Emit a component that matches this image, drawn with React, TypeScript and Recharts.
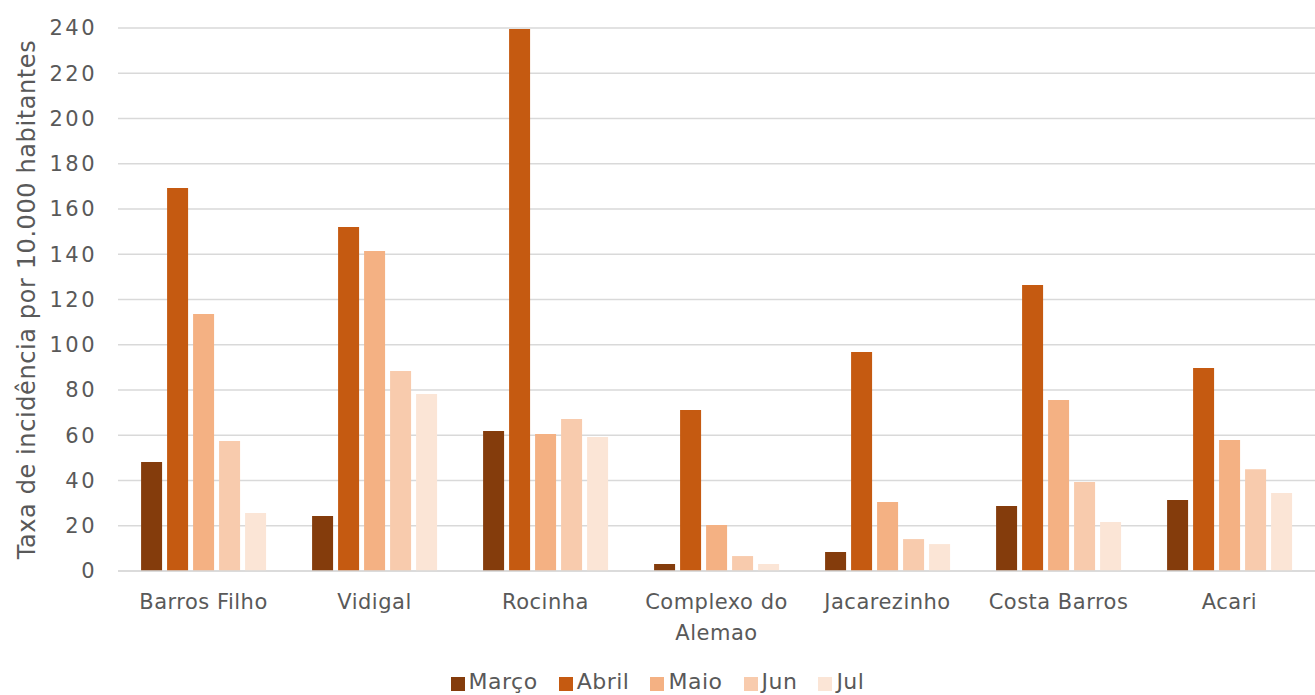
import React from 'react';
import { BarChart, Bar, XAxis, YAxis, CartesianGrid, Legend } from 'recharts';

const bairros = ['Barros Filho', 'Vidigal', 'Rocinha', 'Complexo do Alemao', 'Jacarezinho', 'Costa Barros', 'Acari'];
const marco = [48.2, 24.3, 61.9, 3.1, 8.4, 28.7, 31.4];
const abril = [169.3, 152.0, 239.6, 71.2, 96.8, 126.4, 89.7];
const maio = [113.6, 141.4, 60.6, 20.3, 30.5, 75.6, 57.9];
const jun = [57.5, 88.4, 67.2, 6.6, 14.1, 39.3, 45.0];
const jul = [25.6, 78.2, 59.2, 3.1, 11.9, 21.7, 34.5];
const yTicks = [0, 20, 40, 60, 80, 100, 120, 140, 160, 180, 200, 220, 240];

const series = [
  { key: 'marco', name: 'Março', color: '#843C0C' },
  { key: 'abril', name: 'Abril', color: '#C55A11' },
  { key: 'maio', name: 'Maio', color: '#F4B183' },
  { key: 'jun', name: 'Jun', color: '#F8CBAD' },
  { key: 'jul', name: 'Jul', color: '#FBE5D6' },
];

const data = bairros.map((name, i) => ({
  name,
  marco: marco[i],
  abril: abril[i],
  maio: maio[i],
  jun: jun[i],
  jul: jul[i],
}));

const FONT = '"DejaVu Sans", sans-serif';
const TEXT = '#595959';

// wrap long category names into lines of at most ~13 chars
const wrap = (label: string) => {
  const lines: string[] = [];
  let cur = '';
  label.split(' ').forEach((w) => {
    const next = cur ? cur + ' ' + w : w;
    if (next.length > 13 && cur) {
      lines.push(cur);
      cur = w;
    } else {
      cur = next;
    }
  });
  if (cur) lines.push(cur);
  return lines;
};

const CategoryTick = (props: any) => {
  const { x, y, payload } = props;
  const lines = wrap(String(payload.value));
  return (
    <text x={x} y={y + 30} textAnchor="middle" fill={TEXT} fontSize={21} letterSpacing={0.5} fontFamily={FONT}>
      {lines.map((l, i) => (
        <tspan key={i} x={x} dy={i === 0 ? 0 : 31}>
          {l}
        </tspan>
      ))}
    </text>
  );
};

const LegendContent = () => (
  <div style={{ display: 'flex', justifyContent: 'center', gap: 21, paddingTop: 14, fontFamily: FONT, fontSize: 22, letterSpacing: 0.5, color: TEXT, lineHeight: '26px' }}>
    {series.map((s) => (
      <div key={s.key} style={{ display: 'flex', alignItems: 'center' }}>
        <span style={{ width: 14, height: 14, background: s.color, marginRight: 4, marginTop: 4 }} />
        <span>{s.name}</span>
      </div>
    ))}
  </div>
);

export default function App() {
  return (
    <div style={{ position: 'absolute', left: 0, top: 0, background: '#fff' }}>
      <BarChart
        width={1315}
        height={695}
        data={data}
        margin={{ top: 28, right: 0, left: 0, bottom: 0 }}
        barCategoryGap="13.5%"
        barGap={5}
      >
        <CartesianGrid vertical={false} stroke="#D9D9D9" strokeWidth={1.5} />
        <XAxis
          dataKey="name"
          height={84}
          axisLine={{ stroke: '#D9D9D9', strokeWidth: 1.5 }}
          tickLine={false}
          tick={<CategoryTick />}
          interval={0}
        />
        <YAxis
          width={118}
          domain={[0, 240]}
          ticks={yTicks}
          interval={0}
          axisLine={false}
          tickLine={false}
          tickSize={0}
          tickMargin={21}
          tick={{ fill: TEXT, fontSize: 21, fontFamily: FONT, letterSpacing: 2.5 }}
          label={{
            value: 'Taxa de incidência por 10.000 habitantes',
            angle: -90,
            position: 'insideLeft',
            offset: 26,
            style: { textAnchor: 'middle', fill: TEXT, fontSize: 24, letterSpacing: 0.6, fontFamily: FONT },
          }}
        />
        <Legend verticalAlign="bottom" height={40} content={<LegendContent />} />
        {series.map((s) => (
          <Bar key={s.key} dataKey={s.key} name={s.name} fill={s.color} isAnimationActive={false} />
        ))}
      </BarChart>
    </div>
  );
}
